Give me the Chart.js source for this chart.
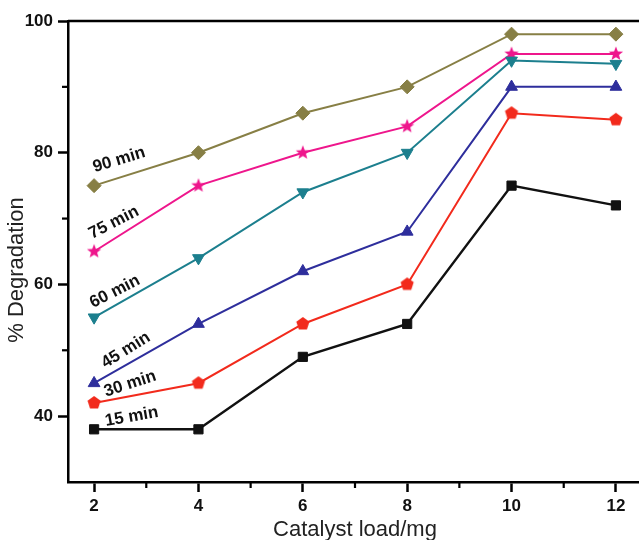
<!DOCTYPE html>
<html>
<head>
<meta charset="utf-8">
<script src="https://cdn.jsdelivr.net/npm/chart.js@4.4.1/dist/chart.umd.min.js"></script>
<style>
  html, body { margin: 0; padding: 0; background: #fff; overflow: hidden; }
  #wrap { width: 650px; height: 540px; }
</style>
</head>
<body>
<div id="wrap"><canvas id="chart" width="650" height="540"></canvas></div>
<script>
// Catalyst load (mg) and % degradation after each irradiation time
const catalystLoad = [2, 4, 6, 8, 10, 12];
const deg15 = [38, 38, 49, 54, 75, 72];
const deg30 = [42, 45, 54, 60, 86, 85];
const deg45 = [45, 54, 62, 68, 90, 90];
const deg60 = [55, 64, 74, 80, 94, 93.5];
const deg75 = [65, 75, 80, 84, 95, 95];
const deg90 = [75, 80, 86, 90, 98, 98];
const seriesNames = ['15 min', '30 min', '45 min', '60 min', '75 min', '90 min'];

const xMajorTicks = [2, 4, 6, 8, 10, 12];
const xMinorTicks = [3, 5, 7, 9, 11];
const yMajorTicks = [40, 60, 80, 100];
const yMinorTicks = [50, 70, 90];

const FONT = '"Liberation Sans", Arial, Helvetica, sans-serif';

// In-plot series captions: anchor (data units) and rotation in degrees
const captionPlacement = {
  '15 min': { x: 2.72, y: 39.9, angle: -10 },
  '30 min': { x: 2.69, y: 44.9, angle: -18 },
  '45 min': { x: 2.61, y: 50.0, angle: -32 },
  '60 min': { x: 2.40, y: 58.9, angle: -27 },
  '75 min': { x: 2.38, y: 69.4, angle: -27 },
  '90 min': { x: 2.48, y: 78.9, angle: -17 }
};

// Filled marker sprites for shapes Chart.js lacks
function makeSprite(size, color, pathFn) {
  const c = document.createElement('canvas');
  c.width = size; c.height = size;
  const g = c.getContext('2d');
  g.fillStyle = color;
  g.beginPath();
  pathFn(g, size / 2, size / 2);
  g.closePath();
  g.fill();
  return c;
}
function polygon(n, rOuter, rInner) {
  return (g, cx, cy) => {
    const pts = rInner ? n * 2 : n;
    for (let i = 0; i < pts; i++) {
      const r = rInner ? (i % 2 === 0 ? rOuter : rInner) : rOuter;
      const a = -Math.PI / 2 + i * 2 * Math.PI / pts;
      const px = cx + r * Math.cos(a), py = cy + r * Math.sin(a);
      if (i === 0) g.moveTo(px, py); else g.lineTo(px, py);
    }
  };
}

const colors = {
  '15 min': '#111111',
  '30 min': '#f22a1c',
  '45 min': '#2e2e9c',
  '60 min': '#1c7f8e',
  '75 min': '#ee168c',
  '90 min': '#877f45'
};

const starSprite = makeSprite(18, colors['75 min'], polygon(5, 7.5, 3.2));
const pentagonSprite = makeSprite(16, colors['30 min'], polygon(5, 6.9));

const seriesValues = [deg15, deg30, deg45, deg60, deg75, deg90];
const markerStyles = [
  { pointStyle: 'rect', pointRadius: 6.5, pointRotation: 0 },
  { pointStyle: pentagonSprite, pointRadius: 7, pointRotation: 0 },
  { pointStyle: 'triangle', pointRadius: 6.8, pointRotation: 0 },
  { pointStyle: 'triangle', pointRadius: 6.8, pointRotation: 180 },
  { pointStyle: starSprite, pointRadius: 7, pointRotation: 0 },
  { pointStyle: 'rectRot', pointRadius: 7, pointRotation: 0 }
];

const datasets = seriesNames.map((name, i) => ({
  label: name,
  data: catalystLoad.map((x, j) => ({ x: x, y: seriesValues[i][j] })),
  borderColor: colors[name],
  backgroundColor: colors[name],
  pointBackgroundColor: colors[name],
  pointBorderColor: colors[name],
  pointBorderWidth: 1,
  borderWidth: i === 0 ? 2.4 : 2,
  tension: 0,
  fill: false,
  ...markerStyles[i]
}));

// Frame top edge, minor ticks, y title and series captions
const decorations = {
  id: 'decorations',
  afterDraw(chart) {
    const { ctx, chartArea, scales } = chart;
    const xs = scales.x, ys = scales.y;
    ctx.save();
    ctx.strokeStyle = '#000';
    ctx.lineWidth = 2.5;
    ctx.beginPath();
    ctx.moveTo(chartArea.left, chartArea.top);
    ctx.lineTo(chart.width, chartArea.top);
    ctx.stroke();

    ctx.lineWidth = 2.2;
    xMinorTicks.forEach(v => {
      const px = xs.getPixelForValue(v);
      ctx.beginPath();
      ctx.moveTo(px, chartArea.bottom);
      ctx.lineTo(px, chartArea.bottom + 6);
      ctx.stroke();
    });
    yMinorTicks.forEach(v => {
      const py = ys.getPixelForValue(v);
      ctx.beginPath();
      ctx.moveTo(chartArea.left, py);
      ctx.lineTo(chartArea.left - 6, py);
      ctx.stroke();
    });

    // y axis title
    ctx.save();
    ctx.translate(17, 270);
    ctx.rotate(-Math.PI / 2);
    ctx.fillStyle = '#222';
    ctx.font = '22px ' + FONT;
    ctx.textAlign = 'center';
    ctx.textBaseline = 'middle';
    ctx.fillText('% Degradation', 0, 0);
    ctx.restore();

    // series captions
    ctx.fillStyle = '#111';
    ctx.font = 'bold 17px ' + FONT;
    ctx.textAlign = 'center';
    ctx.textBaseline = 'middle';
    seriesNames.forEach(name => {
      const p = captionPlacement[name];
      ctx.save();
      ctx.translate(xs.getPixelForValue(p.x), ys.getPixelForValue(p.y));
      ctx.rotate(p.angle * Math.PI / 180);
      ctx.fillText(name, 0, 0);
      ctx.restore();
    });
    ctx.restore();
  }
};

new Chart(document.getElementById('chart'), {
  type: 'line',
  data: { datasets },
  plugins: [decorations],
  options: {
    responsive: false,
    animation: false,
    devicePixelRatio: 1,
    layout: { padding: { top: 21, right: 5, bottom: 0, left: 0 } },
    plugins: { legend: { display: false }, tooltip: { enabled: false } },
    scales: {
      x: {
        type: 'linear',
        min: 1.5,
        max: 12.5,
        afterBuildTicks: s => { s.ticks = xMajorTicks.map(v => ({ value: v })); },
        afterFit: s => { s.height = 58; },
        grid: { drawOnChartArea: false, drawTicks: true, tickLength: 10, tickWidth: 2.5, tickColor: '#000' },
        border: { display: true, color: '#000', width: 2.5 },
        ticks: { color: '#111', font: { family: FONT, size: 17, weight: 'bold' }, padding: 4, maxRotation: 0, autoSkip: false },
        title: { display: true, text: 'Catalyst load/mg', color: '#222', font: { family: FONT, size: 22, lineHeight: 0.9 }, padding: 0 }
      },
      y: {
        type: 'linear',
        min: 30,
        max: 100,
        afterBuildTicks: s => { s.ticks = yMajorTicks.map(v => ({ value: v })); },
        afterFit: s => { s.width = 68; },
        grid: { drawOnChartArea: false, drawTicks: true, tickLength: 10, tickWidth: 2.5, tickColor: '#000' },
        border: { display: true, color: '#000', width: 2.5 },
        ticks: { color: '#111', font: { family: FONT, size: 17, weight: 'bold' }, padding: 5 }
      }
    }
  }
});
</script>
</body>
</html>
